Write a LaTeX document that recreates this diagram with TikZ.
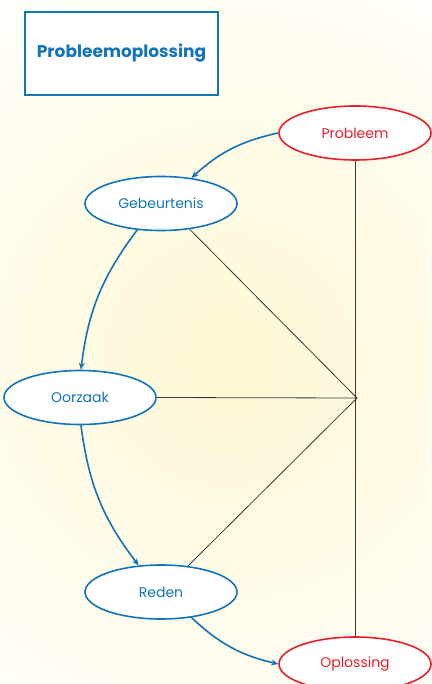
\documentclass[tikz,border=0pt]{standalone}
\usepackage{fontspec}
\setmainfont{Poppins}
\usetikzlibrary{shapes.geometric,arrows.meta}
\definecolor{cblue}{HTML}{1374B9}
\definecolor{cred}{HTML}{E8202A}
\definecolor{cyel}{HTML}{FFF8D4}
\definecolor{cline}{HTML}{3A3A3A}
\tikzset{
  blueell/.style={ellipse, draw=cblue, line width=1.6pt, fill=white, text=cblue,
    minimum width=152pt, minimum height=54pt, inner sep=0pt, font=\fontsize{14}{16}\selectfont},
  redell/.style={blueell, draw=cred, text=cred},
  titlebox/.style={draw=cblue, line width=1.6pt, fill=white, text=cblue,
    minimum width=193pt, minimum height=83pt, font=\bfseries\fontsize{17}{20}\selectfont},
  flow/.style={cblue, line width=1.6pt, -{Stealth[length=7pt,width=6pt]}},
  thin/.style={cline, line width=0.8pt}
}
\begin{document}
\begin{tikzpicture}[x=1pt,y=-1pt]
\useasboundingbox (0,0) rectangle (431,684);
\begin{scope}
\clip (0,0) rectangle (431,684);
\fill[white] (0,0) rectangle (431,684);
\shade[inner color=cyel, outer color=white] (228,360) circle (480);
\end{scope}
\node[titlebox] (title) at (121.5,53.5) {Probleemoplossing};
\coordinate (hub) at (357,398);
\node[redell] (probleem) at (355,133) {Probleem};
\node[blueell] (gebeurtenis) at (161,203.5) {Gebeurtenis};
\node[blueell] (oorzaak) at (80,397.5) {Oorzaak};
\node[blueell] (reden) at (161,592) {Reden};
\node[redell] (oplossing) at (355,664) {Oplossing};
\draw[thin] (probleem.south) -- (oplossing.north);
\draw[thin] (gebeurtenis.-42) -- (hub);
\draw[thin] (oorzaak.east) -- (hub);
\draw[thin] (reden.44) -- (hub);
\draw[flow] (probleem.west) to[bend right=15] (gebeurtenis.40);
\draw[flow] (gebeurtenis.-132) to[bend right=15] (oorzaak.88);
\draw[flow] (oorzaak.-88) to[bend right=15] (reden.130);
\draw[flow] (reden.-40) to[bend right=15] (oplossing.west);
\end{tikzpicture}
\end{document}
